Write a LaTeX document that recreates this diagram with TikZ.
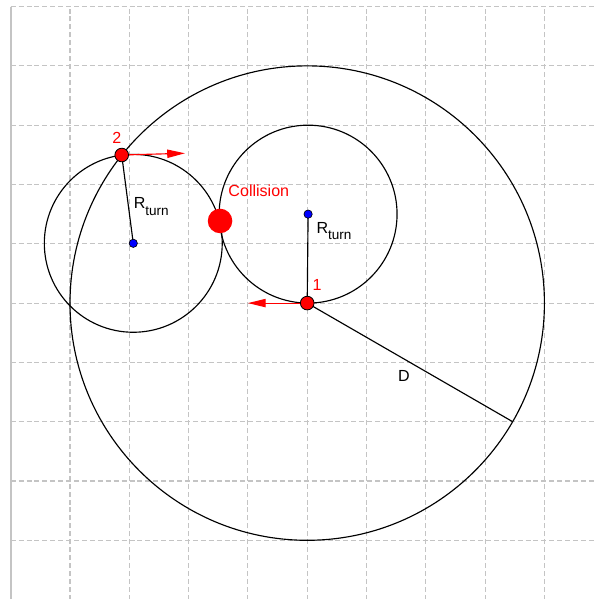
\documentclass[tikz,border=0pt]{standalone}
\usepackage{fontspec}
\setmainfont{Liberation Sans}
\usetikzlibrary{arrows.meta}
\definecolor{gridgray}{HTML}{C4C4C4}
\begin{document}
\begin{tikzpicture}[x=1cm,y=1cm,
 gridline/.style={gridgray, line width=0.5pt, dash pattern=on 2.4pt off 1.4pt},
 curve/.style={black, line width=0.55pt},
 reddot/.style={circle, fill=red, draw=black, line width=0.4pt, inner sep=0pt, minimum size=0.23cm},
 bluedot/.style={circle, fill=blue, draw=black, line width=0.3pt, inner sep=0pt, minimum size=0.14cm},
 heading/.style={red, line width=0.55pt, -{Triangle[length=0.3cm,width=0.14cm]}},
 lbl/.style={inner sep=0pt, font=\fontsize{7.7}{9}\selectfont},
]
\useasboundingbox (-0.1804,0.0101) rectangle (9.853,10.111);
% grid
\foreach \x in {1,...,9} \draw[gridline] (\x,0) -- (\x,10);
\foreach \y in {1,...,10} \draw[gridline] (0,\y) -- (9.853,\y);
\draw[gridgray, line width=0.8pt] (0,0) -- (0,10);
% key points
\coordinate (cbig) at (5,5);
\coordinate (cR) at (5.015,6.5);
\coordinate (cL) at (2.067,6.008);
\coordinate (pt1) at (5,5);
\coordinate (pt2) at (1.872,7.497);
\coordinate (dend) at (8.464,3.0);
\coordinate (h1) at (4,5);
\coordinate (h2) at (2.939,7.526);
% circles
\draw[curve] (cbig) circle (4);
\draw[curve] (cR) circle (1.5);
\draw[curve] (cL) circle (1.5);
% radii
\draw[curve] (pt1) -- (cR);
\draw[curve] (pt2) -- (cL);
\draw[curve] (pt1) -- (dend);
% headings
\draw[heading] (pt1) -- (h1);
\draw[heading] (pt2) -- (h2);
% dots
\node[bluedot] (b1) at (cR) {};
\node[bluedot] (b2) at (cL) {};
\node[reddot] (p1) at (pt1) {};
\node[reddot] (p2) at (pt2) {};
\node[circle, fill=red, inner sep=0pt, minimum size=0.414cm] (coll) at (3.530,6.385) {};
% labels
\node[lbl, red, anchor=base] (l2) at (1.788,7.683) {2};
\node[lbl, red, anchor=base] (l1) at (5.165,5.209) {1};
\node[lbl, red, anchor=base] (lc) at (4.184,6.794) {Collision};
\node[lbl, anchor=base] (ld) at (6.632,3.675) {D};
\node[lbl, anchor=base west] (lrL) at (2.069,6.587) {R\raisebox{-2.9pt}{\fontsize{6.5}{7}\selectfont turn}};
\node[lbl, anchor=base west] (lrR) at (5.15,6.177) {R\raisebox{-2.9pt}{\fontsize{6.5}{7}\selectfont turn}};
\end{tikzpicture}
\end{document}
